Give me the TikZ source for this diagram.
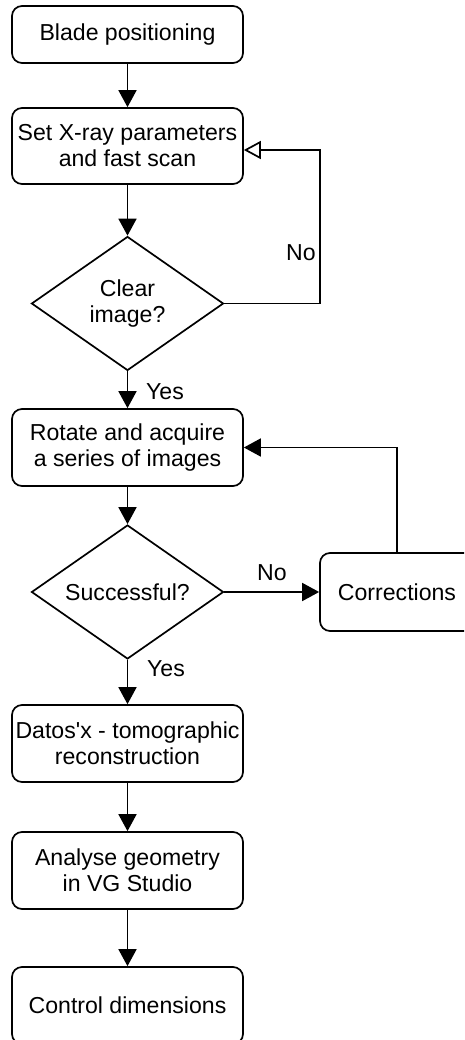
\documentclass[tikz,border=0pt]{standalone}
\usepackage{fontspec}
\setmainfont{Liberation Sans}
\usetikzlibrary{shapes.geometric,arrows.meta}
\begin{document}
\begin{tikzpicture}[x=1pt,y=1pt,
  every node/.style={font=\fontsize{23.1}{26}\selectfont},
  box/.style={draw,line width=1.7pt,rounded corners=10pt,minimum width=231pt,minimum height=77pt,align=center,inner sep=0pt},
  dec/.style={draw,line width=1.7pt,shape=diamond,aspect=1.44,minimum width=192pt,minimum height=134pt,align=center,inner sep=0pt},
  arr/.style={line width=1.7pt,-{Triangle[length=17pt,width=18pt]}},
  arro/.style={line width=1.7pt,-{Triangle[open,length=17pt,width=18pt]}},
  lbl/.style={anchor=base,inner sep=0pt}]
\useasboundingbox (0,0) rectangle (464,-1040);
\clip (0,0) rectangle (464,-1040);
\node[box,minimum height=57pt] (b1) at (127.5,-34.5) {Blade positioning};
\node[box,minimum height=76pt] (b2) at (127.5,-146) {Set X-ray parameters\\and fast scan};
\node[dec] (d1) at (127.5,-303.5) {Clear\\image?};
\node[box] (b3) at (127.5,-447.5) {Rotate and acquire\\a series of images};
\node[dec] (d2) at (127.5,-592) {Successful?};
\node[box,minimum width=154pt,minimum height=78pt] (corr) at (397,-592) {Corrections};
\node[box] (b4) at (127.5,-743.5) {Datos\textquotesingle x - tomographic\\reconstruction};
\node[box] (b5) at (127.5,-870.5) {Analyse geometry\\in VG Studio};
\node[box] (b6) at (127.5,-1005.5) {Control dimensions};
\coordinate (c1) at (320,-303.5);
\coordinate (c2) at (320,-150);
\draw[arr] (b1) -- (b2);
\draw[arr] (b2) -- (d1);
\draw[arro] (d1.east) -- (c1) -- (c2) -- (c2 -| b2.east);
\draw[arr] (d1) -- (b3);
\draw[arr] (b3) -- (d2);
\draw[arr] (d2.east) -- (corr.west);
\draw[arr] (corr.north) |- (b3.east);
\draw[arr] (d2) -- (b4);
\draw[arr] (b4) -- (b5);
\draw[arr] (b5) -- (b6);
\node[lbl] (l1) at (301,-261) {No};
\node[lbl] (l2) at (165,-399) {Yes};
\node[lbl] (l3) at (272,-580) {No};
\node[lbl] (l4) at (166,-676) {Yes};
\end{tikzpicture}
\end{document}
